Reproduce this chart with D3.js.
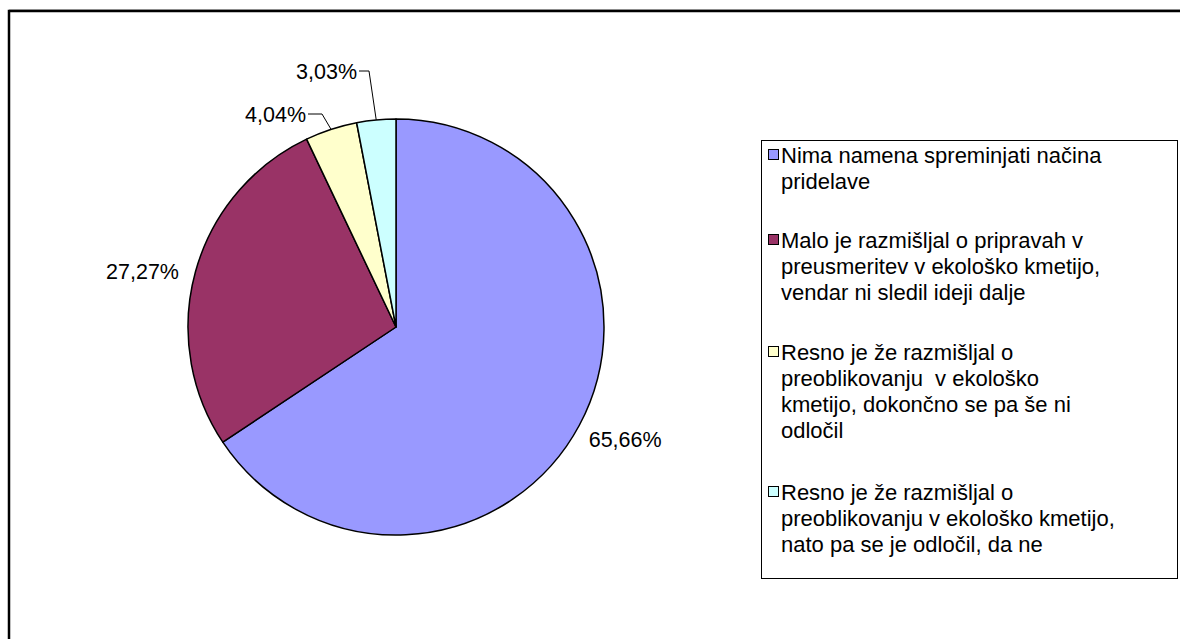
<!DOCTYPE html>
<html><head><meta charset="utf-8">
<script src="https://cdn.jsdelivr.net/npm/d3@7"></script>
<style>body{margin:0;background:#fff}svg{display:block}text{font-family:"Liberation Sans",Arial,sans-serif;fill:#000}</style>
</head><body><svg id="c" width="1180" height="639"></svg>
<script>
const categories = [
  ["Nima namena spreminjati načina", "pridelave"],
  ["Malo je razmišljal o pripravah v", "preusmeritev v ekološko kmetijo,", "vendar ni sledil ideji dalje"],
  ["Resno je že razmišljal o", "preoblikovanju  v ekološko", "kmetijo, dokončno se pa še ni", "odločil"],
  ["Resno je že razmišljal o", "preoblikovanju v ekološko kmetijo,", "nato pa se je odločil, da ne"]
];
const values = [65.66, 27.27, 4.04, 3.03];
const valueLabels = ["65,66%", "27,27%", "4,04%", "3,03%"];
const colors = ["#9999FF", "#993366", "#FFFFCC", "#CCFFFF"];

const svg = d3.select("#c");
svg.append("line").attr("x1",9).attr("x2",1180).attr("y1",9.5).attr("y2",9.5).attr("stroke","#bbb").attr("stroke-width",1);
svg.append("rect").attr("x",9).attr("y",11).attr("width",1200).attr("height",700)
  .attr("fill","none").attr("stroke","#000").attr("stroke-width",2.5);

const cx = 396, cy = 327, r = 208;
const pie = d3.pie().sort(null).value(d => d);
const arcs = pie(values);
const arc = d3.arc().innerRadius(0).outerRadius(r);
const g = svg.append("g").attr("transform", `translate(${cx},${cy})`);
g.selectAll("path").data(arcs).join("path")
  .attr("d", arc).attr("fill", (d,i)=>colors[i])
  .attr("stroke","#000").attr("stroke-width",1.5).attr("stroke-linejoin","round");

const fs = 21.5;
const lab = svg.append("g").attr("font-size", fs);
function pt(a, rad){ return [cx + rad*Math.sin(a), cy - rad*Math.cos(a)]; }
function mid(d){ return (d.startAngle+d.endAngle)/2; }
{
  const p = pt(mid(arcs[0]), r+52);
  lab.append("text").attr("x", p[0]).attr("y", p[1]-10).attr("text-anchor","middle").attr("dy","0.35em").text(valueLabels[0]);
}
{
  const p = pt(mid(arcs[1]), r+55);
  lab.append("text").attr("x", p[0]).attr("y", p[1]+15).attr("text-anchor","middle").attr("dy","0.35em").text(valueLabels[1]);
}
{
  const p0 = pt(mid(arcs[2]), r);
  const tx = 306, ty = 114;
  svg.append("polyline").attr("points", `${tx+2},${ty} ${tx+16},${ty} ${p0[0]},${p0[1]}`)
    .attr("fill","none").attr("stroke","#000").attr("stroke-width",1);
  lab.append("text").attr("x", tx).attr("y", ty).attr("text-anchor","end").attr("dy","0.35em").text(valueLabels[2]);
}
{
  const p0 = pt(mid(arcs[3]), r);
  const tx = 357, ty = 71;
  svg.append("polyline").attr("points", `${tx+2},${ty} ${tx+12},${ty} ${p0[0]},${p0[1]}`)
    .attr("fill","none").attr("stroke","#000").attr("stroke-width",1);
  lab.append("text").attr("x", tx).attr("y", ty).attr("text-anchor","end").attr("dy","0.35em").text(valueLabels[3]);
}

svg.append("rect").attr("x",761.5).attr("y",140.5).attr("width",416).attr("height",438)
  .attr("fill","#fff").attr("stroke","#000").attr("stroke-width",1);
const legTops = [155, 240, 352, 492];
const lh = 26;
const leg = svg.append("g").attr("font-size", 22);
categories.forEach((lines, i) => {
  const y0 = legTops[i];
  leg.append("rect").attr("x",768.5).attr("y",y0-5.5).attr("width",10).attr("height",10)
    .attr("fill",colors[i]).attr("stroke","#000").attr("stroke-width",1);
  lines.forEach((t, j) => {
    leg.append("text").attr("x",781).attr("y", y0 + j*lh).attr("dy","0.35em").attr("xml:space","preserve").text(t);
  });
});
</script></body></html>
